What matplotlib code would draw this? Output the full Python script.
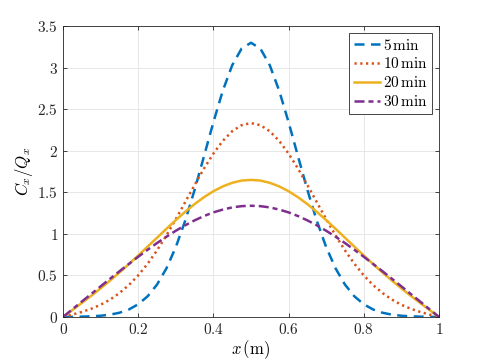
import numpy as np
import matplotlib
matplotlib.use("Agg")
import matplotlib.pyplot as plt
from matplotlib.ticker import FuncFormatter

plt.rcParams['mathtext.fontset'] = 'cm'
plt.rcParams['font.family'] = ['DejaVu Serif']

# x positions (m), every 0.025
x = np.linspace(0, 1, 41)

# concentration profiles C_x/Q_x
c5 = [0.000, 0.001, 0.003, 0.007, 0.014, 0.027, 0.050, 0.089, 0.152, 0.248,
      0.389, 0.584, 0.840, 1.158, 1.529, 1.934, 2.344, 2.723, 3.029, 3.230,
      3.300,
      3.230, 3.029, 2.723, 2.344, 1.934, 1.529, 1.158, 0.840, 0.584, 0.389,
      0.248, 0.152, 0.089, 0.050, 0.027, 0.014, 0.007, 0.003, 0.001, 0.000]
c10 = [0.000, 0.028, 0.060, 0.098, 0.146, 0.208, 0.287, 0.383, 0.500, 0.640,
       0.801, 0.981, 1.177, 1.382, 1.588, 1.786, 1.966, 2.119, 2.235, 2.308,
       2.333,
       2.308, 2.235, 2.119, 1.966, 1.786, 1.588, 1.382, 1.177, 0.981, 0.801,
       0.640, 0.500, 0.383, 0.287, 0.208, 0.146, 0.098, 0.060, 0.028, 0.000]
c20 = [0.000, 0.083, 0.168, 0.254, 0.344, 0.437, 0.534, 0.635, 0.739, 0.846,
       0.953, 1.060, 1.165, 1.265, 1.358, 1.441, 1.513, 1.571, 1.614, 1.641,
       1.649,
       1.641, 1.614, 1.571, 1.513, 1.441, 1.358, 1.265, 1.165, 1.060, 0.953,
       0.846, 0.739, 0.635, 0.534, 0.437, 0.344, 0.254, 0.168, 0.083, 0.000]
c30 = [0.000, 0.092, 0.185, 0.276, 0.368, 0.459, 0.549, 0.637, 0.724, 0.808,
       0.889, 0.965, 1.037, 1.103, 1.162, 1.214, 1.258, 1.292, 1.318, 1.333,
       1.338,
       1.333, 1.318, 1.292, 1.258, 1.214, 1.162, 1.103, 1.037, 0.965, 0.889,
       0.808, 0.724, 0.637, 0.549, 0.459, 0.368, 0.276, 0.185, 0.092, 0.000]

labels = ['5 min', '10 min', '20 min', '30 min']
xticks = [0, 0.2, 0.4, 0.6, 0.8, 1]
yticks = [0, 0.5, 1, 1.5, 2, 2.5, 3, 3.5]

fig = plt.figure(figsize=(4.85, 3.63), dpi=100)
ax = fig.add_axes([0.130, 0.127, 0.775, 0.801])

lw = 1.8
ax.plot(x, c5, color='#0072BD', lw=lw, dashes=(4, 2.6),
        label=r'$5\,\mathrm{min}$')
ax.plot(x, c10, color='#D95319', lw=lw, dashes=(0.9, 1.4),
        label=r'$10\,\mathrm{min}$')
ax.plot(x, c20, color='#EDB120', lw=lw, ls='-',
        label=r'$20\,\mathrm{min}$')
ax.plot(x, c30, color='#7E2F8E', lw=lw, dashes=(4, 1.6, 2, 1.6),
        label=r'$30\,\mathrm{min}$')

ax.set_xlim(0, 1)
ax.set_ylim(0, 3.5)
ax.set_xticks(xticks)
ax.set_yticks(yticks)
fmt = FuncFormatter(lambda v, p: '$%g$' % v)
ax.xaxis.set_major_formatter(fmt)
ax.yaxis.set_major_formatter(fmt)
ax.tick_params(direction='in', length=3, width=0.6, labelsize=11,
               top=True, right=True, colors='#262626')
ax.grid(True, color='#e3e3e3', lw=0.6)
ax.set_axisbelow(True)
for s in ax.spines.values():
    s.set_color('#262626')
    s.set_linewidth(0.6)

ax.set_xlabel(r'$x\,(\mathrm{m})$', fontsize=12, labelpad=1)
ax.set_ylabel(r'$C_x/Q_x$', fontsize=12, labelpad=2)

leg = ax.legend(loc='upper right', fontsize=11, handlelength=1.7,
                handletextpad=0.2, borderaxespad=0.45, borderpad=0.3,
                labelspacing=0.25, fancybox=False, framealpha=1)
leg.get_frame().set_edgecolor('#262626')
leg.get_frame().set_linewidth(0.6)

fig.savefig('out.png', dpi=100)
